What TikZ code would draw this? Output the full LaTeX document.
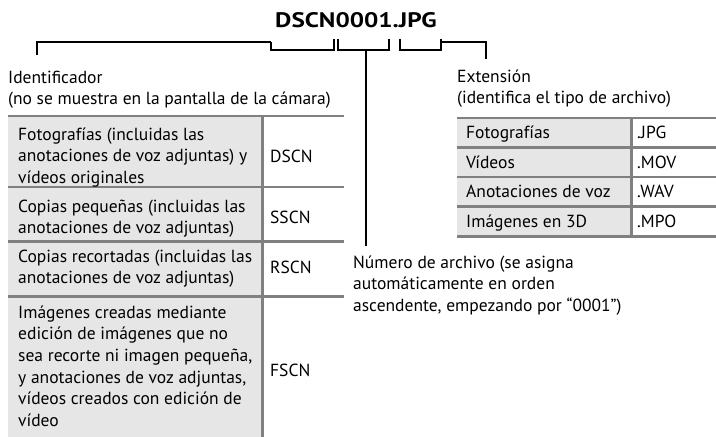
\documentclass[tikz,border=0pt]{standalone}
\usepackage{fontspec}
\setmainfont{PT Sans}
\definecolor{cellgray}{HTML}{E6E6E6}
\definecolor{rulegray}{HTML}{808080}
\begin{document}
\begin{tikzpicture}[x=1pt,y=-1pt,
  tfont/.style={font=\fontsize{17.5}{21.7}\selectfont},
  blk/.style={tfont, inner sep=0pt, anchor=north west, align=left},
  one/.style={tfont, inner sep=0pt, anchor=base west},
  br/.style={line width=1.8pt, black},
  tline/.style={line width=2.6pt, rulegray},
]
\useasboundingbox (0,0) rectangle (716,437);

% ---------- title ----------
\node[inner sep=0pt, anchor=base, font=\fontsize{21}{24}\selectfont\bfseries] (title) at (356,27) {\scalebox{1.2}[1]{DSCN0001.JPG}};

% ---------- left table ----------
\fill[cellgray] (8,117) rectangle (261,437);
\draw[tline] (8,116) -- (344,116);
\draw[tline] (8,187) -- (344,187);
\draw[tline] (8,241.5) -- (344,241.5);
\draw[tline] (8,296.5) -- (344,296.5);
\draw[tline] (262.5,116) -- (262.5,437);

\node[blk] (r1) at (18,124.8) {\strut Fotografías (incluidas las\\anotaciones de voz adjuntas) y\\vídeos originales};
\node[blk] (r2) at (18,196.8) {\strut Copias pequeñas (incluidas las\\anotaciones de voz adjuntas)};
\node[blk] (r3) at (18,246.8) {\strut Copias recortadas (incluidas las\\anotaciones de voz adjuntas)};
\node[blk] (r4) at (18,302.8) {\strut Imágenes creadas mediante\\edición de imágenes que no\\sea recorte ni imagen pequeña,\\y anotaciones de voz adjuntas,\\vídeos creados con edición de\\vídeo};
\node[one] (c1) at (270,162) {DSCN};
\node[one] (c2) at (270,223) {SSCN};
\node[one] (c3) at (270,273) {RSCN};
\node[one] (c4) at (270,376) {FSCN};

% ---------- right table ----------
\fill[cellgray] (457,118) rectangle (630,237);
\draw[tline] (457,118) -- (716,118);
\draw[tline] (457,147.5) -- (716,147.5);
\draw[tline] (457,177) -- (716,177);
\draw[tline] (457,206.5) -- (716,206.5);
\draw[tline] (457,236.5) -- (716,236.5);
\draw[tline] (631.5,118) -- (631.5,236.5);

\node[one] (e1) at (466,138.5) {Fotografías};
\node[one] (e2) at (466,168) {Vídeos};
\node[one] (e3) at (466,197.5) {Anotaciones de voz};
\node[one] (e4) at (466,227) {Imágenes en 3D};
\node[one] (x1) at (637,138.5) {.JPG};
\node[one] (x2) at (637,168) {.MOV};
\node[one] (x3) at (637,197.5) {.WAV};
\node[one] (x4) at (637,227) {.MPO};

% ---------- labels ----------
\node[blk] (ident) at (8,67.8) {\strut Identificador\\(no se muestra en la pantalla de la cámara)};
\node[blk] (ext) at (457,66.8) {\strut Extensión\\(identifica el tipo de archivo)};
\node[blk] (num) at (353,252.8) {\strut Número de archivo (se asigna\\automáticamente en orden\\ascendente, empezando por “0001”)};

% ---------- brackets ----------
\coordinate (b1a) at (271,42);
\coordinate (b1b) at (334,39);
\coordinate (b2a) at (338,39);
\coordinate (b2b) at (389,39);
\coordinate (b2m) at (366,50);
\coordinate (b3a) at (400,39);
\coordinate (b3b) at (441,39);
\coordinate (b3r) at (441,42);
\coordinate (idl) at (37,55);
\coordinate (extl) at (486,59);
\coordinate (numl) at (366,246);

\draw[br] (b1a) -- ++(0,8) -| (b1b);
\draw[br] (b2a) -- ++(0,11) -| (b2b);
\draw[br] (b3a) -- ++(0,11) -| (b3b);
\draw[br] (b1a) -| (idl);
\draw[br] (b3r) -| (extl);
\draw[br] (b2m) -- (numl);
\end{tikzpicture}
\end{document}
